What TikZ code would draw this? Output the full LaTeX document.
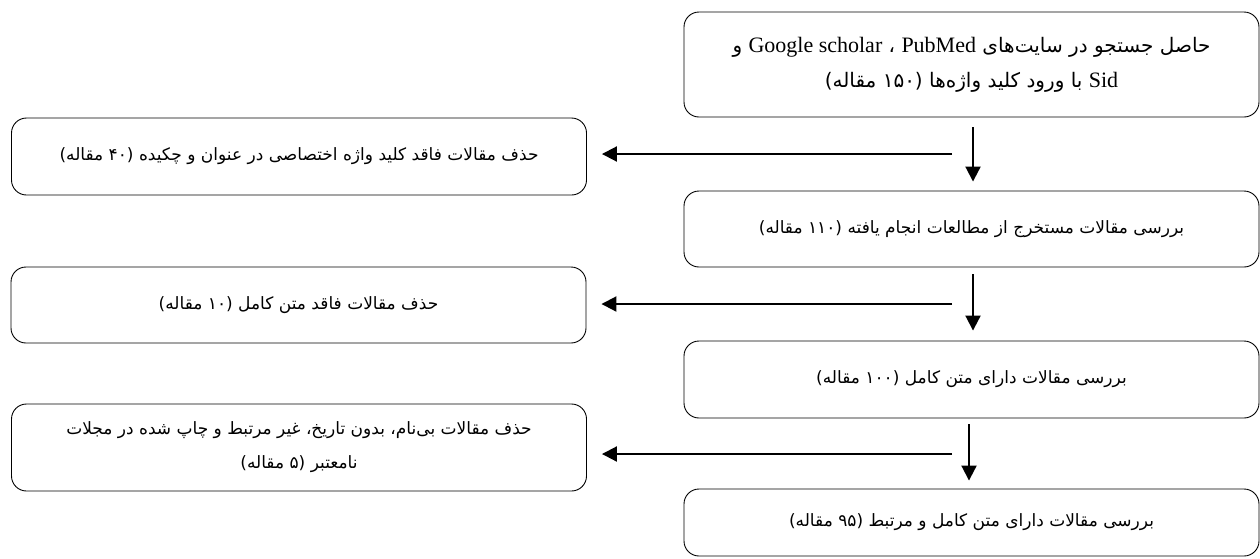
\documentclass[tikz,border=0pt]{standalone}
\usepackage{fontspec}
\setmainfont{Liberation Serif}
\newfontfamily\fa[Script=Arabic]{DejaVu Sans}
\TeXXeTstate=1
\usetikzlibrary{arrows.meta}

% one right-to-left line, and a left-to-right Latin run inside it
\newcommand\rtl[1]{\beginR #1\endR}
\newcommand\ltr[1]{\beginL{\rmfamily\fontsize{22}{34}\selectfont #1}\endL{}}

\tikzset{
  stage/.style={draw, line width=0.9pt, rounded corners=15pt,
    minimum width=575pt, inner sep=0pt, align=center,
    font=\fa\fontsize{17}{34}\selectfont},
  lead/.style={font=\fa\fontsize{20}{35}\selectfont},
  flow/.style={line width=2pt, -{Triangle[length=15pt,width=15pt]}},
}

\begin{document}
\begin{tikzpicture}[x=1pt,y=-1pt]
\useasboundingbox (0,0) rectangle (1260,558);

% main column
\node[stage, lead, minimum height=105pt] (r1) at (971.5,64.5)
  {\rtl{حاصل جستجو در سایت‌های \ltr{PubMed} ، \ltr{Google scholar} و}\\
   \rtl{\ltr{Sid} با ورود کلید واژه‌ها (۱۵۰ مقاله)}};
\node[stage, minimum height=76pt] (r2) at (971.5,229)
  {\rtl{بررسی مقالات مستخرج از مطالعات انجام یافته (۱۱۰ مقاله)}};
\node[stage, minimum height=77pt] (r3) at (971.5,379.5)
  {\rtl{بررسی مقالات دارای متن کامل (۱۰۰ مقاله)}};
\node[stage, minimum height=67pt] (r4) at (971.5,522.5)
  {\rtl{بررسی مقالات دارای متن کامل و مرتبط (۹۵ مقاله)}};

% excluded articles
\node[stage, minimum height=77pt] (l1) at (299,156.5)
  {\rtl{حذف مقالات فاقد کلید واژه اختصاصی در عنوان و چکیده (۴۰ مقاله)}};
\node[stage, minimum height=76pt] (l2) at (298.5,305)
  {\rtl{حذف مقالات فاقد متن کامل (۱۰ مقاله)}};
\node[stage, minimum height=87pt] (l3) at (299,447.5)
  {\rtl{حذف مقالات بی‌نام، بدون تاریخ، غیر مرتبط و چاپ شده در مجلات}\\
   \rtl{نامعتبر (۵ مقاله)}};

% branch points of the side arrows
\coordinate (h1) at (952,154);
\coordinate (h2) at (952,304);
\coordinate (h3) at (952,454);

\draw[flow, shorten >=15pt] (h1) -- (h1 -| l1.east);
\draw[flow, shorten >=15pt] (h2) -- (h2 -| l2.east);
\draw[flow, shorten >=15pt] (h3) -- (h3 -| l3.east);

\draw[flow, shorten <=10pt, shorten >=9pt]
  ([xshift=1.5pt]r1.south) -- ([xshift=1.5pt]r2.north);
\draw[flow, shorten <=7pt, shorten >=10pt]
  ([xshift=1.5pt]r2.south) -- ([xshift=1.5pt]r3.north);
\draw[flow, shorten <=6pt, shorten >=8pt]
  ([xshift=-2.5pt]r3.south) -- ([xshift=-2.5pt]r4.north);
\end{tikzpicture}
\end{document}
